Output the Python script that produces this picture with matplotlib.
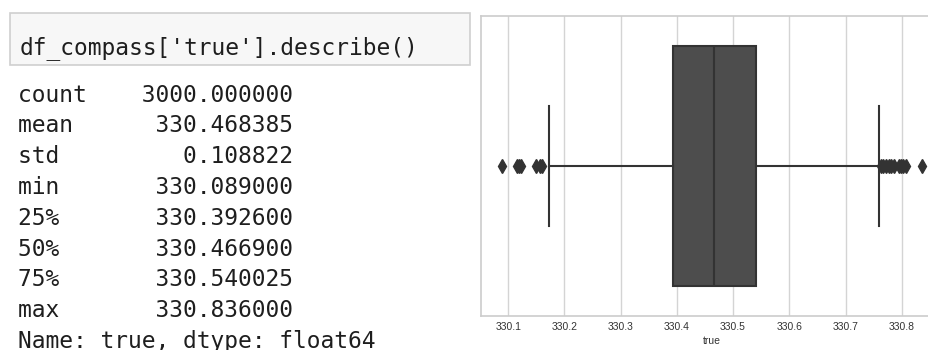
import matplotlib.pyplot as plt
from matplotlib.patches import Rectangle

# describe() output shown on the left
code_line = "df_compass['true'].describe()"
stat_names = ["count", "mean", "std", "min", "25%", "50%", "75%", "max"]
stat_values = [3000.0, 330.468385, 0.108822, 330.089, 330.3926, 330.4669, 330.540025, 330.836]
footer = "Name: true, dtype: float64"

# boxplot values
q1 = 330.3926
med = 330.4669
q3 = 330.540025
whis_lo = 330.172
whis_hi = 330.760
fliers_low = [330.089, 330.115, 330.119, 330.123, 330.150, 330.156, 330.161]
fliers_high = [330.763, 330.767, 330.772, 330.777, 330.781, 330.786, 330.795, 330.799, 330.803, 330.807, 330.836]
xticks = [330.1, 330.2, 330.3, 330.4, 330.5, 330.6, 330.7, 330.8]

W, H = 929, 350
fig = plt.figure(figsize=(W / 100, H / 100), dpi=100)

# code cell
fig.patches.append(Rectangle((10 / W, 1 - 65 / H), 460 / W, 52 / H, transform=fig.transFigure,
                             facecolor="#f7f7f7", edgecolor="#cfcfcf", linewidth=1.2))
mono = "DejaVu Sans Mono"
fig.text(20 / W, 1 - 54 / H, code_line, family=mono, fontsize=16.5, color="#1e1e1e", va="baseline")

# output lines
lines = [f"{n:<5}{v:>15.6f}" for n, v in zip(stat_names, stat_values)] + [footer]
for i, line in enumerate(lines):
    y = 101.7 + i * 30.8
    fig.text(18 / W, 1 - y / H, line, family=mono, fontsize=16.5, color="#1e1e1e", va="baseline")

# boxplot axes (right side runs past the image edge, like the cropped screenshot)
ax = fig.add_axes([481 / W, 1 - 316 / H, 462 / W, 300 / H])
stats = [dict(q1=q1, med=med, q3=q3, whislo=whis_lo, whishi=whis_hi,
              fliers=fliers_low + fliers_high)]
dark = "#333333"
ax.bxp(stats, positions=[0], widths=0.8, orientation="horizontal", patch_artist=True,
       showfliers=True, capwidths=0.4,
       boxprops=dict(facecolor="#4d4d4d", edgecolor=dark, linewidth=1.5),
       medianprops=dict(color=dark, linewidth=1.5),
       whiskerprops=dict(color=dark, linewidth=1.5),
       capprops=dict(color=dark, linewidth=1.5),
       flierprops=dict(marker="d", markerfacecolor=dark, markeredgecolor=dark, markersize=7))
ax.set_ylim(0.5, -0.5)
ax.set_yticks([])
ax.set_xticks(xticks)
ax.set_xticklabels([f"{t:.1f}" for t in xticks])
ax.set_axisbelow(True)
ax.grid(axis="x", color="#d4d4d4", linewidth=1)
for s in ax.spines.values():
    s.set_color("#cccccc")
    s.set_linewidth(1.2)
ax.tick_params(axis="x", length=0, pad=4, labelsize=7.5, labelcolor="#333333")
for lab in ax.get_xticklabels():
    lab.set_family("Liberation Sans")
ax.set_xlabel("true", family="Liberation Sans", fontsize=7.5, color="#333333", labelpad=3)

fig.savefig("out.png", dpi=100)
